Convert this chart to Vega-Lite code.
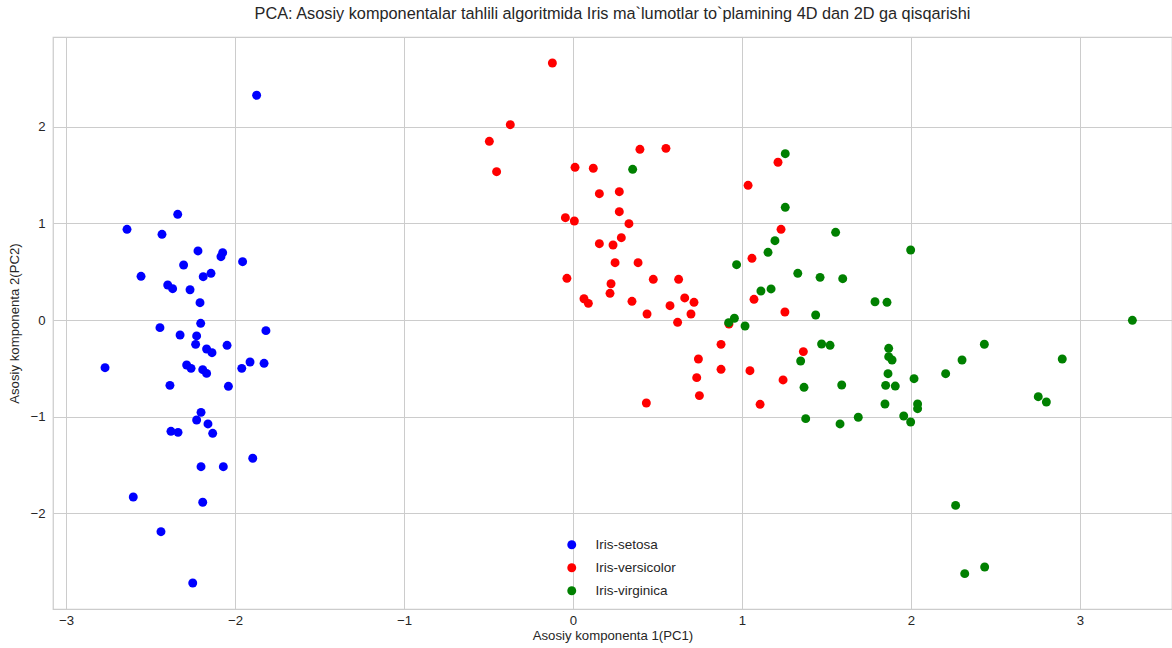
{
  "$schema": "https://vega.github.io/schema/vega-lite/v6.json",
  "autosize": {"type": "none"},
  "padding": {"left": 53, "top": 37, "right": 0, "bottom": 39},
  "width": 1119,
  "height": 572,
  "background": "white",
  "title": {
    "text": "PCA: Asosiy komponentalar tahlili algoritmida Iris ma`lumotlar to`plamining 4D dan 2D ga qisqarishi",
    "font": "Liberation Sans",
    "fontSize": 16.3,
    "fontWeight": "normal",
    "color": "#262626",
    "anchor": "middle",
    "offset": 15
  },
  "config": {
    "view": {"stroke": "#cccccc", "strokeWidth": 1.25},
    "axis": {
      "labelFont": "Liberation Sans",
      "labelFontSize": 13.2,
      "labelColor": "#262626",
      "titleFont": "Liberation Sans",
      "titleFontSize": 13.2,
      "titleFontWeight": "normal",
      "titleColor": "#262626",
      "gridColor": "#cccccc",
      "gridWidth": 1,
      "domain": false,
      "ticks": false
    }
  },
  "data": {
    "values": [
      {"pc1": -1.872, "pc2": 2.324, "species": "Iris-setosa"},
      {"pc1": -2.339, "pc2": 1.093, "species": "Iris-setosa"},
      {"pc1": -2.639, "pc2": 0.938, "species": "Iris-setosa"},
      {"pc1": -2.432, "pc2": 0.886, "species": "Iris-setosa"},
      {"pc1": -2.219, "pc2": 0.714, "species": "Iris-setosa"},
      {"pc1": -2.073, "pc2": 0.696, "species": "Iris-setosa"},
      {"pc1": -2.083, "pc2": 0.655, "species": "Iris-setosa"},
      {"pc1": -1.955, "pc2": 0.603, "species": "Iris-setosa"},
      {"pc1": -2.304, "pc2": 0.569, "species": "Iris-setosa"},
      {"pc1": -2.556, "pc2": 0.452, "species": "Iris-setosa"},
      {"pc1": -2.188, "pc2": 0.448, "species": "Iris-setosa"},
      {"pc1": -2.142, "pc2": 0.483, "species": "Iris-setosa"},
      {"pc1": -2.398, "pc2": 0.362, "species": "Iris-setosa"},
      {"pc1": -2.369, "pc2": 0.324, "species": "Iris-setosa"},
      {"pc1": -2.266, "pc2": 0.313, "species": "Iris-setosa"},
      {"pc1": -2.207, "pc2": 0.179, "species": "Iris-setosa"},
      {"pc1": -2.203, "pc2": -0.034, "species": "Iris-setosa"},
      {"pc1": -2.444, "pc2": -0.079, "species": "Iris-setosa"},
      {"pc1": -1.817, "pc2": -0.11, "species": "Iris-setosa"},
      {"pc1": -2.325, "pc2": -0.155, "species": "Iris-setosa"},
      {"pc1": -2.227, "pc2": -0.165, "species": "Iris-setosa"},
      {"pc1": -2.233, "pc2": -0.252, "species": "Iris-setosa"},
      {"pc1": -2.168, "pc2": -0.3, "species": "Iris-setosa"},
      {"pc1": -2.136, "pc2": -0.338, "species": "Iris-setosa"},
      {"pc1": -2.047, "pc2": -0.262, "species": "Iris-setosa"},
      {"pc1": -2.769, "pc2": -0.493, "species": "Iris-setosa"},
      {"pc1": -2.286, "pc2": -0.465, "species": "Iris-setosa"},
      {"pc1": -2.26, "pc2": -0.5, "species": "Iris-setosa"},
      {"pc1": -2.191, "pc2": -0.514, "species": "Iris-setosa"},
      {"pc1": -2.168, "pc2": -0.552, "species": "Iris-setosa"},
      {"pc1": -1.96, "pc2": -0.5, "species": "Iris-setosa"},
      {"pc1": -1.911, "pc2": -0.434, "species": "Iris-setosa"},
      {"pc1": -1.828, "pc2": -0.448, "species": "Iris-setosa"},
      {"pc1": -2.385, "pc2": -0.676, "species": "Iris-setosa"},
      {"pc1": -2.039, "pc2": -0.686, "species": "Iris-setosa"},
      {"pc1": -2.201, "pc2": -0.955, "species": "Iris-setosa"},
      {"pc1": -2.227, "pc2": -1.034, "species": "Iris-setosa"},
      {"pc1": -2.16, "pc2": -1.075, "species": "Iris-setosa"},
      {"pc1": -2.132, "pc2": -1.172, "species": "Iris-setosa"},
      {"pc1": -2.379, "pc2": -1.151, "species": "Iris-setosa"},
      {"pc1": -2.337, "pc2": -1.162, "species": "Iris-setosa"},
      {"pc1": -1.895, "pc2": -1.43, "species": "Iris-setosa"},
      {"pc1": -2.201, "pc2": -1.517, "species": "Iris-setosa"},
      {"pc1": -2.069, "pc2": -1.517, "species": "Iris-setosa"},
      {"pc1": -2.602, "pc2": -1.83, "species": "Iris-setosa"},
      {"pc1": -2.191, "pc2": -1.885, "species": "Iris-setosa"},
      {"pc1": -2.438, "pc2": -2.189, "species": "Iris-setosa"},
      {"pc1": -2.25, "pc2": -2.72, "species": "Iris-setosa"},
      {"pc1": -0.122, "pc2": 2.658, "species": "Iris-versicolor"},
      {"pc1": -0.371, "pc2": 2.02, "species": "Iris-versicolor"},
      {"pc1": -0.495, "pc2": 1.848, "species": "Iris-versicolor"},
      {"pc1": -0.452, "pc2": 1.534, "species": "Iris-versicolor"},
      {"pc1": 0.396, "pc2": 1.765, "species": "Iris-versicolor"},
      {"pc1": 0.55, "pc2": 1.775, "species": "Iris-versicolor"},
      {"pc1": 0.012, "pc2": 1.579, "species": "Iris-versicolor"},
      {"pc1": 0.12, "pc2": 1.569, "species": "Iris-versicolor"},
      {"pc1": 0.156, "pc2": 1.306, "species": "Iris-versicolor"},
      {"pc1": 0.274, "pc2": 1.327, "species": "Iris-versicolor"},
      {"pc1": 0.274, "pc2": 1.12, "species": "Iris-versicolor"},
      {"pc1": 0.331, "pc2": 0.996, "species": "Iris-versicolor"},
      {"pc1": -0.045, "pc2": 1.058, "species": "Iris-versicolor"},
      {"pc1": 0.008, "pc2": 1.024, "species": "Iris-versicolor"},
      {"pc1": 0.286, "pc2": 0.851, "species": "Iris-versicolor"},
      {"pc1": 0.156, "pc2": 0.789, "species": "Iris-versicolor"},
      {"pc1": 0.237, "pc2": 0.776, "species": "Iris-versicolor"},
      {"pc1": 0.249, "pc2": 0.593, "species": "Iris-versicolor"},
      {"pc1": 0.385, "pc2": 0.593, "species": "Iris-versicolor"},
      {"pc1": -0.036, "pc2": 0.431, "species": "Iris-versicolor"},
      {"pc1": 0.225, "pc2": 0.375, "species": "Iris-versicolor"},
      {"pc1": 0.475, "pc2": 0.421, "species": "Iris-versicolor"},
      {"pc1": 0.625, "pc2": 0.421, "species": "Iris-versicolor"},
      {"pc1": 0.219, "pc2": 0.276, "species": "Iris-versicolor"},
      {"pc1": 0.065, "pc2": 0.22, "species": "Iris-versicolor"},
      {"pc1": 0.091, "pc2": 0.172, "species": "Iris-versicolor"},
      {"pc1": 0.349, "pc2": 0.193, "species": "Iris-versicolor"},
      {"pc1": 0.661, "pc2": 0.228, "species": "Iris-versicolor"},
      {"pc1": 0.716, "pc2": 0.183, "species": "Iris-versicolor"},
      {"pc1": 0.574, "pc2": 0.148, "species": "Iris-versicolor"},
      {"pc1": 0.438, "pc2": 0.062, "species": "Iris-versicolor"},
      {"pc1": 0.698, "pc2": 0.062, "species": "Iris-versicolor"},
      {"pc1": 0.619, "pc2": -0.024, "species": "Iris-versicolor"},
      {"pc1": 0.923, "pc2": -0.041, "species": "Iris-versicolor"},
      {"pc1": 0.876, "pc2": -0.252, "species": "Iris-versicolor"},
      {"pc1": 0.742, "pc2": -0.403, "species": "Iris-versicolor"},
      {"pc1": 0.876, "pc2": -0.51, "species": "Iris-versicolor"},
      {"pc1": 0.732, "pc2": -0.596, "species": "Iris-versicolor"},
      {"pc1": 0.748, "pc2": -0.782, "species": "Iris-versicolor"},
      {"pc1": 0.434, "pc2": -0.858, "species": "Iris-versicolor"},
      {"pc1": 1.047, "pc2": -0.524, "species": "Iris-versicolor"},
      {"pc1": 1.107, "pc2": -0.872, "species": "Iris-versicolor"},
      {"pc1": 1.243, "pc2": -0.62, "species": "Iris-versicolor"},
      {"pc1": 1.363, "pc2": -0.327, "species": "Iris-versicolor"},
      {"pc1": 1.213, "pc2": 1.631, "species": "Iris-versicolor"},
      {"pc1": 1.036, "pc2": 1.393, "species": "Iris-versicolor"},
      {"pc1": 1.231, "pc2": 0.938, "species": "Iris-versicolor"},
      {"pc1": 1.059, "pc2": 0.638, "species": "Iris-versicolor"},
      {"pc1": 1.071, "pc2": 0.214, "species": "Iris-versicolor"},
      {"pc1": 1.254, "pc2": 0.083, "species": "Iris-versicolor"},
      {"pc1": 0.353, "pc2": 1.558, "species": "Iris-virginica"},
      {"pc1": 0.968, "pc2": 0.572, "species": "Iris-virginica"},
      {"pc1": 0.921, "pc2": -0.028, "species": "Iris-virginica"},
      {"pc1": 0.955, "pc2": 0.018, "species": "Iris-virginica"},
      {"pc1": 1.018, "pc2": -0.062, "species": "Iris-virginica"},
      {"pc1": 1.436, "pc2": 0.052, "species": "Iris-virginica"},
      {"pc1": 1.471, "pc2": -0.248, "species": "Iris-virginica"},
      {"pc1": 1.521, "pc2": -0.262, "species": "Iris-virginica"},
      {"pc1": 1.347, "pc2": -0.424, "species": "Iris-virginica"},
      {"pc1": 1.367, "pc2": -0.696, "species": "Iris-virginica"},
      {"pc1": 1.59, "pc2": -0.672, "species": "Iris-virginica"},
      {"pc1": 1.377, "pc2": -1.02, "species": "Iris-virginica"},
      {"pc1": 1.58, "pc2": -1.075, "species": "Iris-virginica"},
      {"pc1": 1.688, "pc2": -1.006, "species": "Iris-virginica"},
      {"pc1": 1.256, "pc2": 1.72, "species": "Iris-virginica"},
      {"pc1": 1.256, "pc2": 1.165, "species": "Iris-virginica"},
      {"pc1": 1.554, "pc2": 0.907, "species": "Iris-virginica"},
      {"pc1": 1.195, "pc2": 0.82, "species": "Iris-virginica"},
      {"pc1": 1.154, "pc2": 0.7, "species": "Iris-virginica"},
      {"pc1": 1.998, "pc2": 0.724, "species": "Iris-virginica"},
      {"pc1": 1.33, "pc2": 0.483, "species": "Iris-virginica"},
      {"pc1": 1.462, "pc2": 0.441, "species": "Iris-virginica"},
      {"pc1": 1.596, "pc2": 0.427, "species": "Iris-virginica"},
      {"pc1": 1.112, "pc2": 0.3, "species": "Iris-virginica"},
      {"pc1": 1.172, "pc2": 0.321, "species": "Iris-virginica"},
      {"pc1": 1.787, "pc2": 0.189, "species": "Iris-virginica"},
      {"pc1": 1.858, "pc2": 0.183, "species": "Iris-virginica"},
      {"pc1": 1.868, "pc2": -0.293, "species": "Iris-virginica"},
      {"pc1": 1.868, "pc2": -0.379, "species": "Iris-virginica"},
      {"pc1": 1.888, "pc2": -0.414, "species": "Iris-virginica"},
      {"pc1": 1.864, "pc2": -0.555, "species": "Iris-virginica"},
      {"pc1": 1.85, "pc2": -0.676, "species": "Iris-virginica"},
      {"pc1": 1.907, "pc2": -0.683, "species": "Iris-virginica"},
      {"pc1": 1.846, "pc2": -0.869, "species": "Iris-virginica"},
      {"pc1": 2.018, "pc2": -0.607, "species": "Iris-virginica"},
      {"pc1": 2.039, "pc2": -0.869, "species": "Iris-virginica"},
      {"pc1": 2.039, "pc2": -0.917, "species": "Iris-virginica"},
      {"pc1": 1.957, "pc2": -0.993, "species": "Iris-virginica"},
      {"pc1": 1.998, "pc2": -1.055, "species": "Iris-virginica"},
      {"pc1": 2.205, "pc2": -0.555, "species": "Iris-virginica"},
      {"pc1": 2.302, "pc2": -0.414, "species": "Iris-virginica"},
      {"pc1": 2.434, "pc2": -0.251, "species": "Iris-virginica"},
      {"pc1": 3.31, "pc2": -0.003, "species": "Iris-virginica"},
      {"pc1": 2.895, "pc2": -0.403, "species": "Iris-virginica"},
      {"pc1": 2.753, "pc2": -0.793, "species": "Iris-virginica"},
      {"pc1": 2.801, "pc2": -0.848, "species": "Iris-virginica"},
      {"pc1": 2.264, "pc2": -1.917, "species": "Iris-virginica"},
      {"pc1": 2.318, "pc2": -2.623, "species": "Iris-virginica"},
      {"pc1": 2.436, "pc2": -2.554, "species": "Iris-virginica"}
    ]
  },
  "mark": {"type": "point", "filled": true, "opacity": 1, "size": 80, "strokeWidth": 0},
  "encoding": {
    "x": {
      "field": "pc1",
      "type": "quantitative",
      "scale": {"domain": [-3.0769, 3.5444], "nice": false, "zero": false},
      "axis": {"values": [-3, -2, -1, 0, 1, 2, 3], "title": "Asosiy komponenta 1(PC1)", "labelPadding": 5, "titlePadding": 3}
    },
    "y": {
      "field": "pc2",
      "type": "quantitative",
      "scale": {"domain": [-2.9886, 2.9266], "nice": false, "zero": false},
      "axis": {"values": [-2, -1, 0, 1, 2], "title": "Asosiy komponenta 2(PC2)", "labelPadding": 8, "titlePadding": 8}
    },
    "color": {
      "field": "species",
      "type": "nominal",
      "scale": {"domain": ["Iris-setosa", "Iris-versicolor", "Iris-virginica"], "range": ["#0000ff", "#ff0000", "#008000"]},
      "legend": {
        "title": null,
        "orient": "none",
        "legendX": 512,
        "legendY": 501,
        "symbolType": "circle",
        "symbolSize": 80,
        "symbolStrokeWidth": 0,
        "labelFont": "Liberation Sans",
        "labelFontSize": 13.5,
        "labelColor": "#262626",
        "labelOffset": 17,
        "rowPadding": 8,
        "padding": 0
      }
    }
  }
}
